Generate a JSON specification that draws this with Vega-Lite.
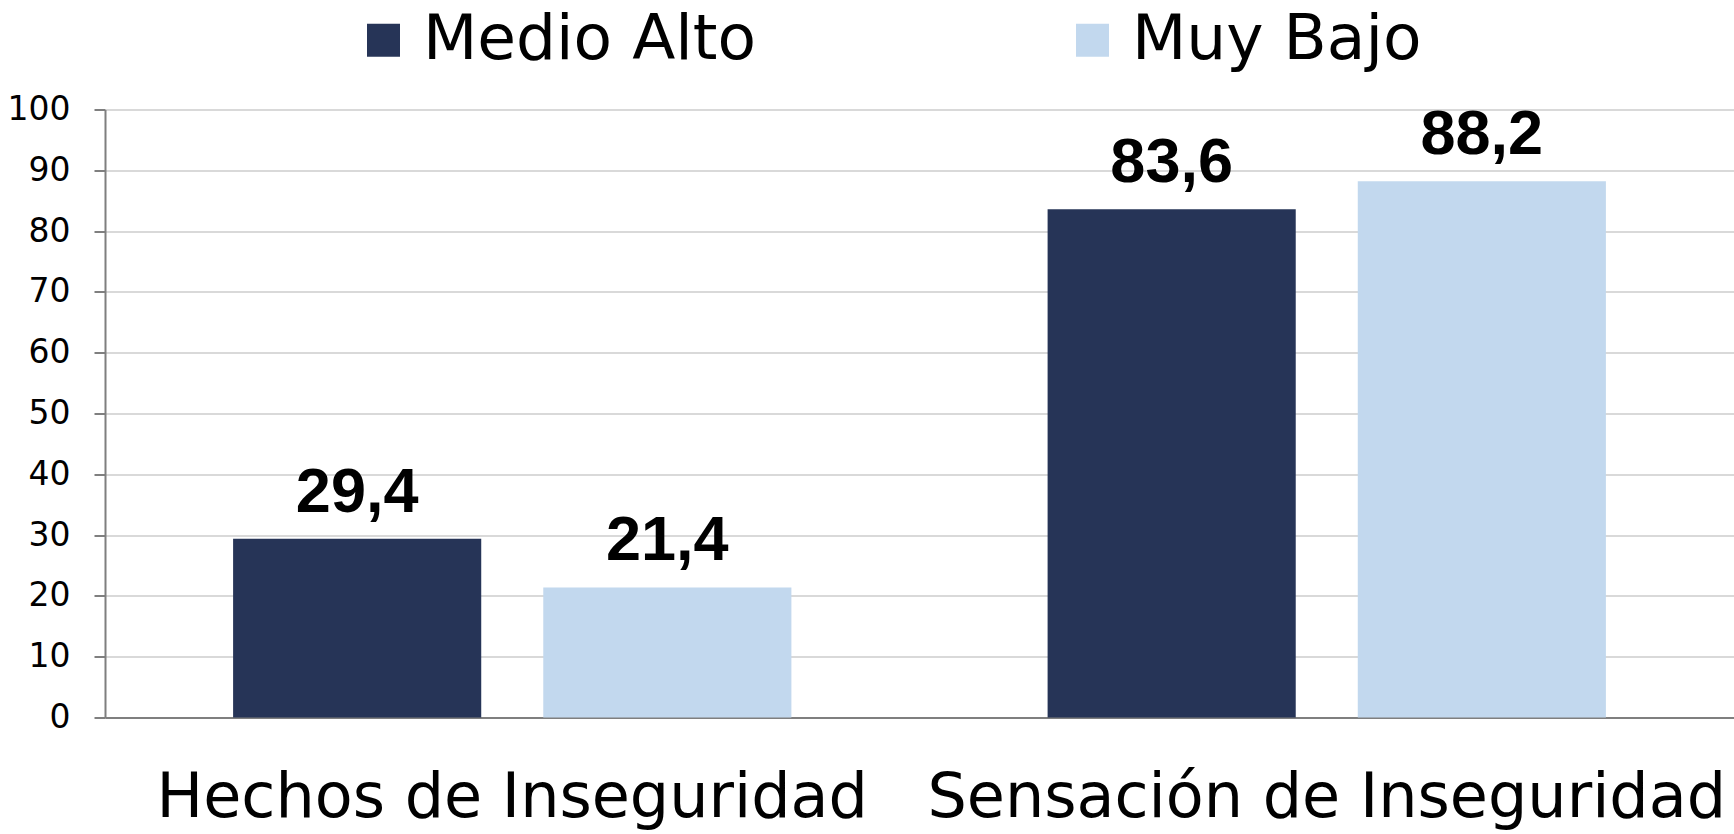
{
  "$schema": "https://vega.github.io/schema/vega-lite/v6.json",
  "autosize": {"type": "none"},
  "padding": {"left": 105, "top": 109.5, "right": 0, "bottom": 116.5},
  "width": 1629,
  "height": 608,
  "background": "white",
  "config": {"view": {"stroke": null}, "font": "DejaVu Sans"},
  "data": {"values": [
    {"categoria": "Hechos de Inseguridad", "nivel": "Medio Alto", "valor": 29.4, "etiqueta": "29,4"},
    {"categoria": "Hechos de Inseguridad", "nivel": "Muy Bajo", "valor": 21.4, "etiqueta": "21,4"},
    {"categoria": "Sensación de Inseguridad", "nivel": "Medio Alto", "valor": 83.6, "etiqueta": "83,6"},
    {"categoria": "Sensación de Inseguridad", "nivel": "Muy Bajo", "valor": 88.2, "etiqueta": "88,2"}
  ]},
  "encoding": {
    "x": {"field": "categoria", "type": "nominal", "sort": null,
      "scale": {"paddingInner": 0, "paddingOuter": 0},
      "axis": {"title": null, "labelAngle": 0, "labelFontSize": 62, "labelColor": "#000000", "labelFont": "DejaVu Sans",
        "labelPadding": 50, "ticks": false, "domainColor": "#7f7f7f", "domainWidth": 2, "labelLimit": 1000}},
    "xOffset": {"field": "nivel", "type": "nominal", "sort": ["Medio Alto", "Muy Bajo"],
      "scale": {"paddingInner": 0.2, "paddingOuter": 0.413}},
    "y": {"field": "valor", "type": "quantitative",
      "scale": {"domain": [0, 100], "nice": false},
      "axis": {"title": null, "values": [0,10,20,30,40,50,60,70,80,90,100], "labelFontSize": 33, "labelColor": "#000000",
        "labelPadding": 24, "tickSize": 11, "tickColor": "#7f7f7f", "tickWidth": 2, "domainColor": "#7f7f7f", "domainWidth": 2,
        "gridColor": "#d9d9d9", "gridWidth": 2, "labelFont": "DejaVu Sans"}}
  },
  "layer": [
    {"mark": {"type": "bar"},
     "encoding": {
       "color": {"field": "nivel", "type": "nominal", "sort": ["Medio Alto", "Muy Bajo"],
         "scale": {"domain": ["Medio Alto", "Muy Bajo"], "range": ["#263457", "#c2d8ee"]},
         "legend": {"title": null, "orient": "none", "legendX": 247, "legendY": -101, "direction": "horizontal", "columns": 2,
           "symbolType": "square", "symbolSize": 1089, "symbolStrokeWidth": 0, "symbolOpacity": 1,
           "labelFontSize": 63, "labelFont": "DejaVu Sans", "labelColor": "#000000", "labelOffset": 8, "columnPadding": 304,
           "labelLimit": 1000}}
     }},
    {"mark": {"type": "text", "font": "Liberation Sans", "fontWeight": "bold", "fontSize": 63, "baseline": "alphabetic", "dy": -27, "color": "#000000"},
     "encoding": {"text": {"field": "etiqueta"}}}
  ]
}
